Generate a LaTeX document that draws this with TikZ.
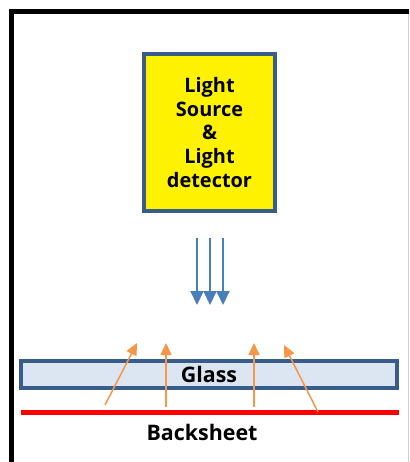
\documentclass[tikz,border=0pt]{standalone}
\usepackage{fontspec}
\setmainfont{Open Sans}
\usetikzlibrary{arrows.meta}
\definecolor{boxblue}{RGB}{56,93,138}
\definecolor{glassfill}{RGB}{220,230,242}
\definecolor{rayblue}{RGB}{74,126,187}
\definecolor{rayorange}{RGB}{247,150,70}
\begin{document}
\begin{tikzpicture}[
  x=1bp, y=-1bp,
  srcbox/.style = {draw=boxblue, line width=4bp, fill=yellow, align=center,
    font=\fontsize{20}{24}\selectfont\bfseries, inner sep=0pt},
  glassbox/.style = {draw=boxblue, line width=4bp, fill=glassfill, inner sep=0pt,
    font=\fontsize{21.5}{24}\selectfont\bfseries},
  sheetlbl/.style = {font=\fontsize{21.5}{24}\selectfont\bfseries},
  blueray/.style = {rayblue, line width=2bp, -{Triangle[width=13bp,length=14bp]}},
  orangeray/.style = {rayorange, line width=1.5bp, -{Triangle[width=11bp,length=12bp]}}
]
  \useasboundingbox (0,0) rectangle (409,462);
  % outer frame
  \draw[gray!35, line width=1bp] (408,11.5) -- (408,462);
  \draw[line width=5bp] (11.5,462) -- (11.5,11.5) -- (409,11.5);
  % light source and detector
  \node[srcbox, minimum width=131bp, minimum height=157bp] (src) at (209.5,132.5)
    {Light\\Source\\\&\\Light\\detector};
  % incoming light
  \coordinate (in1) at (197,238);  \coordinate (out1) at (197,305);
  \coordinate (in2) at (210,238);  \coordinate (out2) at (210,305);
  \coordinate (in3) at (223,238);  \coordinate (out3) at (223,305);
  \draw[blueray] (in1) -- (out1);
  \draw[blueray] (in2) -- (out2);
  \draw[blueray] (in3) -- (out3);
  % glass and backsheet
  \node[glassbox, minimum width=376bp, minimum height=27bp] (glass) at (209,374.5) {Glass};
  \coordinate (bsl) at (21,412);
  \coordinate (bsr) at (399,412);
  \draw[red, line width=5bp] (bsl) -- (bsr);
  \node[sheetlbl] (sheet) at (202,432) {Backsheet};
  % reflected light
  \coordinate (r1a) at (105,405);  \coordinate (r1b) at (137,343);
  \coordinate (r2a) at (166,407);  \coordinate (r2b) at (166,343);
  \coordinate (r3a) at (254,407);  \coordinate (r3b) at (254,343);
  \coordinate (r4a) at (318,412);  \coordinate (r4b) at (284,345);
  \draw[orangeray] (r1a) -- (r1b);
  \draw[orangeray] (r2a) -- (r2b);
  \draw[orangeray] (r3a) -- (r3b);
  \draw[orangeray] (r4a) -- (r4b);
\end{tikzpicture}
\end{document}
